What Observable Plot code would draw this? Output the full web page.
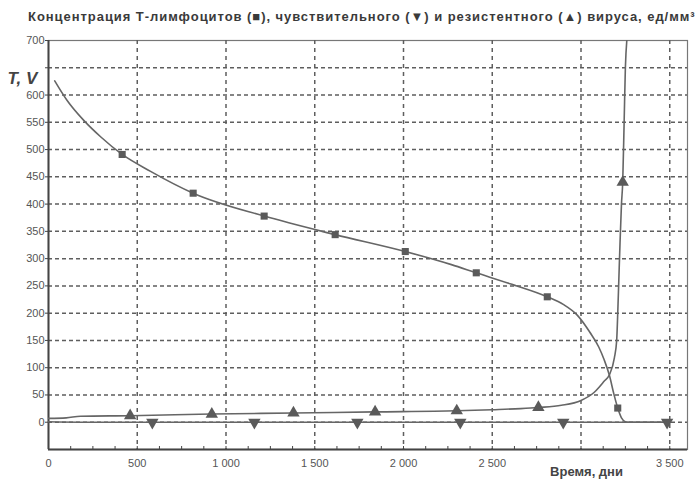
<!DOCTYPE html>
<html><head><meta charset="utf-8">
<script src="https://cdn.jsdelivr.net/npm/d3@7"></script>
<script src="https://cdn.jsdelivr.net/npm/@observablehq/plot@0.6"></script>
<style>
body{margin:0;background:#fff;}
#wrap{position:relative;width:695px;height:481px;overflow:hidden;background:#fff;}
#title{position:absolute;left:28px;top:9px;white-space:nowrap;font:bold 13px "Liberation Sans",Arial,sans-serif;letter-spacing:0.95px;color:#3a3a3a;z-index:2;}
</style></head><body><div id="wrap"><div id="title"></div></div>
<script>
// ---- text ----
const titleText = "Концентрация Т-лимфоцитов (■), чувствительного (▼) и резистентного (▲) вируса, ед/мм³";
const yTitle = "T, V";
const xTitle = "Время, дни";

// ---- axes ----
const xDomain = [0, 3600];
const yDomain = [-50, 700];
const xTicks = [0, 500, 1000, 1500, 2000, 2500, 3000, 3500];
const xTickLabels = ["0", "500", "1 000", "1 500", "2 000", "2 500", "", "3 500"];
const xMinor = [0,125,250,375,500,625,750,875,1000,1125,1250,1375,1500,1625,1750,1875,2000,2125,2250,2375,2500,2625,2750,2875,3000,3125,3250,3375,3500];
const yTicks = [0, 50, 100, 150, 200, 250, 300, 350, 400, 450, 500, 550, 600, 650, 700];
const yTickLabels = ["0", "50", "100", "150", "200", "250", "300", "350", "400", "450", "500", "550", "600", "", "700"];
const yGrid = [0, 50, 100, 150, 200, 250, 300, 350, 400, 450, 500, 550, 600, 650];
const xGrid = [500, 1000, 1500, 2000, 2500, 3000, 3500];

// ---- T-lymphocytes (line) ----
const tDays   = [35, 105, 200, 295, 415, 575, 815, 1215, 1615, 2010, 2270, 2410, 2600, 2810, 2900, 2980, 3050, 3100, 3130, 3160, 3185, 3207, 3228, 3250, 3275, 3500];
const tValues = [626, 590, 553, 523, 491, 460, 420, 378, 344, 313, 289, 274, 254, 230, 216, 196, 165, 138, 115, 86, 52, 26, 8, 1, 0, 0];
// T markers
const tMarkDays   = [415, 815, 1215, 1615, 2010, 2410, 2810, 3207];
const tMarkValues = [491, 420, 378, 344, 313, 274, 230, 26];

// ---- sensitive virus ----
const sDays   = [0, 300, 1000, 2000, 3000, 3500];
const sValues = [1, 0, 0, 0, 0, 0];
const sMarkDays   = [585, 1160, 1740, 2320, 2900, 3485];
const sMarkValues = [0, 0, 0, 0, 0, 0];

// ---- resistant virus ----
const rDays   = [0, 100, 180, 460, 920, 1380, 1840, 2300, 2500, 2660, 2760, 2890, 3000, 3075, 3130, 3160, 3188, 3201, 3207, 3213, 3220, 3228, 3235, 3243, 3250, 3258];
const rValues = [7, 8, 11, 12, 15, 17, 19, 21, 23, 25, 27, 31, 40, 55, 75, 87, 118, 150, 200, 260, 330, 400, 440, 550, 650, 700];
const rMarkDays   = [460, 920, 1380, 1840, 2300, 2760, 3235];
const rMarkValues = [12, 15, 17, 19, 21, 27, 440];

document.getElementById("title").textContent = titleText;

const lineColor = "#666";
const markColor = "#5a5a5a";
const gridColor = "#5e5e5e";

const chart = Plot.plot({
  width: 695, height: 481,
  marginLeft: 48, marginRight: 8, marginTop: 40, marginBottom: 32,
  style: {fontFamily: "'Liberation Sans', Arial, sans-serif", fontSize: "11px", color: "#555", background: "#fff"},
  x: {domain: xDomain},
  y: {domain: yDomain},
  marks: [
    Plot.frame({stroke: "#777", strokeWidth: 1.2}),
    Plot.ruleY(yGrid, {stroke: gridColor, strokeWidth: 1.5, strokeDasharray: "4,3"}),
    Plot.ruleX(xGrid, {stroke: gridColor, strokeWidth: 1.5, strokeDasharray: "4,4"}),
    Plot.ruleX([xDomain[0]], {stroke: "#444", strokeWidth: 2}),
    Plot.ruleY([yDomain[0]], {stroke: "#444", strokeWidth: 2}),
    Plot.axisX(xMinor, {anchor: "bottom", tickSize: -3, tickFormat: () => "", stroke: "#444", label: null}),
    Plot.axisX(xTicks, {anchor: "bottom", tickSize: 0, tickPadding: 10, tickFormat: d => xTickLabels[xTicks.indexOf(d)], label: null, fill: "#555"}),
    Plot.axisY(yTicks, {anchor: "left", tickSize: 3, tickPadding: 1, tickFormat: d => yTickLabels[yTicks.indexOf(d)], label: null, fill: "#555", stroke: "#444"}),
    Plot.text([yTitle], {frameAnchor: "top-left", dx: -41, dy: 31, textAnchor: "start", fontSize: 17, fontWeight: "bold", fontStyle: "italic", fill: "#444"}),
    Plot.text([xTitle], {frameAnchor: "bottom-right", dx: -101, dy: 26, textAnchor: "middle", fontSize: 13, fontWeight: "bold", fill: "#444", style: "letter-spacing:0.7px"}),
    Plot.line(sDays, {x: sDays, y: sValues, stroke: lineColor, strokeWidth: 1.6, curve: "monotone-x"}),
    Plot.line(tDays, {x: tDays, y: tValues, stroke: lineColor, strokeWidth: 1.6, curve: "monotone-x"}),
    Plot.line(rDays, {x: rDays, y: rValues, stroke: lineColor, strokeWidth: 1.6, curve: "monotone-x", clip: true}),
    Plot.dot(tMarkDays, {x: tMarkDays, y: tMarkValues, symbol: "square", r: 4, fill: markColor, stroke: "none"}),
    Plot.dot(rMarkDays, {x: rMarkDays, y: rMarkValues, symbol: "triangle", r: 4.6, fill: markColor, stroke: "none"}),
    Plot.dot(sMarkDays, {x: sMarkDays, y: sMarkValues, symbol: "triangle", rotate: 180, r: 4.6, fill: markColor, stroke: "none"})
  ]
});
document.getElementById("wrap").appendChild(chart);
</script>
</body></html>
